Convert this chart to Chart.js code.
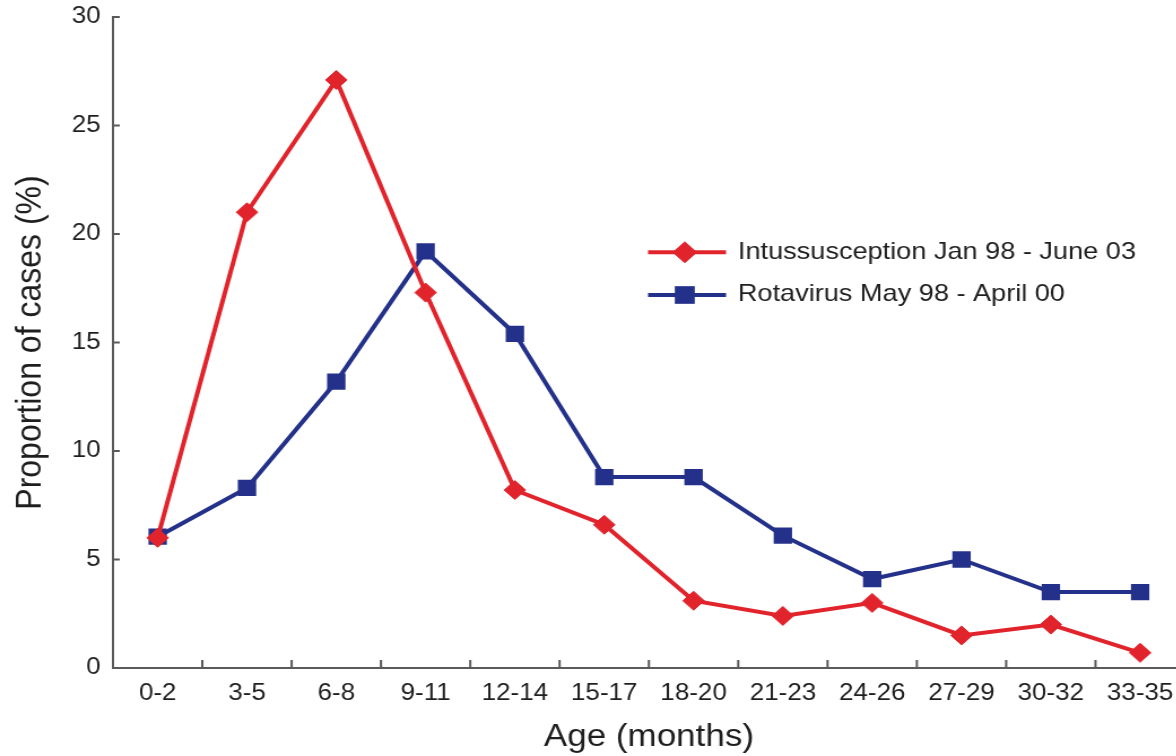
<!DOCTYPE html>
<html>
<head>
<meta charset="utf-8">
<script src="https://cdn.jsdelivr.net/npm/chart.js@4"></script>
<style>
  html, body { margin: 0; padding: 0; background: #fff; overflow: hidden; }
  /* the original figure is stretched a little horizontally */
  #wrap { width: 1060px; height: 756px; transform: scaleX(1.13); transform-origin: 0 0; }
</style>
</head>
<body>
<div id="wrap"><canvas id="grafico" width="1060" height="756"></canvas></div>
<script>
const CATEGORIES = ['0-2', '3-5', '6-8', '9-11', '12-14', '15-17', '18-20', '21-23', '24-26', '27-29', '30-32', '33-35'];
const INTUSSUSCEPTION = [6.0, 21.0, 27.1, 17.3, 8.2, 6.6, 3.1, 2.4, 3.0, 1.5, 2.0, 0.7];
const ROTAVIRUS = [6.05, 8.3, 13.2, 19.2, 15.4, 8.8, 8.8, 6.1, 4.1, 5.0, 3.5, 3.5];
const Y_TICKS = [0, 5, 10, 15, 20, 25, 30];

const RED = '#e1242c';
const BLUE = '#24318a';
const AXIS = '#5a5a5a';
const TEXT = '#1e1e1e';
const FAMILY = '"Liberation Sans", Arial, Helvetica, sans-serif';

Chart.defaults.font.family = FAMILY;
Chart.defaults.color = TEXT;

// tick marks drawn inside the axes, as in the figure
const marcas = {
  id: 'marcas',
  beforeDatasetsDraw(chart) {
    const { ctx, chartArea, scales: { x, y } } = chart;
    ctx.save();
    ctx.strokeStyle = AXIS;
    ctx.lineWidth = 2;
    ctx.beginPath();
    Y_TICKS.forEach(v => {
      const py = y.getPixelForValue(v);
      ctx.moveTo(chartArea.left, py);
      ctx.lineTo(chartArea.left + 6, py);
    });
    for (let i = 1; i <= CATEGORIES.length; i++) {
      const px = x.getPixelForValue(i - 0.5);
      ctx.moveTo(px, chartArea.bottom);
      ctx.lineTo(px, chartArea.bottom - 8);
    }
    ctx.stroke();
    ctx.restore();
  }
};

// legend: line with marker in the middle, text to the right
const legenda = {
  id: 'legenda',
  afterDraw(chart) {
    const ctx = chart.ctx;
    chart.data.datasets.forEach((ds, i) => {
      const ly = 252.3 + i * 42.7;
      ctx.save();
      ctx.strokeStyle = ds.borderColor;
      ctx.lineWidth = ds.borderWidth;
      ctx.beginPath();
      ctx.moveTo(573.5, ly);
      ctx.lineTo(642.5, ly);
      ctx.stroke();
      ctx.fillStyle = ds.pointBackgroundColor;
      ctx.strokeStyle = ds.pointBorderColor;
      ctx.lineWidth = ds.pointBorderWidth;
      Chart.helpers.drawPoint(ctx, {
        pointStyle: ds.pointStyle,
        radius: ds.pointRadius + 1,
        borderWidth: ds.pointBorderWidth,
        rotation: 0
      }, 606, ly);
      ctx.font = '24px ' + FAMILY;
      ctx.fillStyle = TEXT;
      ctx.textBaseline = 'alphabetic';
      ctx.textAlign = 'left';
      ctx.fillText(ds.label, 653, ly + 6.2);
      ctx.restore();
    });
  }
};

new Chart(document.getElementById('grafico').getContext('2d'), {
  type: 'line',
  data: {
    labels: CATEGORIES,
    datasets: [{
      label: 'Intussusception Jan 98 - June 03',
      data: INTUSSUSCEPTION,
      borderColor: RED,
      borderWidth: 4,
      pointStyle: 'rectRot',
      pointRadius: 9.5,
      pointBorderWidth: 1,
      pointBackgroundColor: RED,
      pointBorderColor: RED,
      tension: 0
    }, {
      label: 'Rotavirus May 98 - April 00',
      data: ROTAVIRUS,
      borderColor: BLUE,
      borderWidth: 4,
      pointStyle: 'rect',
      pointRadius: 11.5,
      pointBorderWidth: 0,
      pointBackgroundColor: BLUE,
      pointBorderColor: BLUE,
      tension: 0
    }]
  },
  options: {
    responsive: false,
    animation: false,
    devicePixelRatio: 1,
    layout: { padding: { top: 17, right: 0, left: 0, bottom: 0 } },
    plugins: {
      legend: { display: false },
      tooltip: { enabled: false }
    },
    scales: {
      x: {
        type: 'category',
        offset: true,
        grid: { display: false, drawTicks: false },
        border: { display: true, color: AXIS, width: 2 },
        ticks: { font: { size: 23 }, color: TEXT, padding: 12, maxRotation: 0, autoSkip: false },
        title: {
          display: true,
          text: 'Age (months)',
          font: { size: 31 },
          color: TEXT,
          padding: { top: 0, bottom: 0 }
        },
        afterFit(s) { s.height = 88; s.paddingLeft = 0; s.paddingRight = 0; }
      },
      y: {
        min: 0,
        max: 30,
        grid: { display: false, drawTicks: false },
        border: { display: true, color: AXIS, width: 2 },
        ticks: { stepSize: 5, font: { size: 23 }, color: TEXT, padding: 11 },
        title: {
          display: true,
          text: 'Proportion of cases (%)',
          font: { size: 32 },
          color: TEXT,
          padding: { top: 8, bottom: 0 }
        },
        afterFit(s) { s.width = 100; s.paddingTop = 0; s.paddingBottom = 0; }
      }
    }
  },
  plugins: [marcas, legenda]
});
</script>
</body>
</html>
